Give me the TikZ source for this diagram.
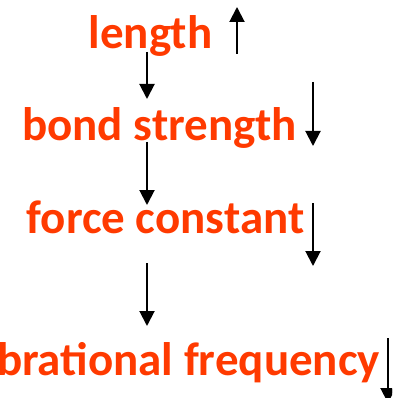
\documentclass[tikz,border=0pt]{standalone}
\usepackage{fontspec}
\setmainfont{Carlito}
\usetikzlibrary{arrows.meta}
\definecolor{lbl}{RGB}{255,58,0}
\begin{document}
\begin{tikzpicture}[x=1pt,y=-1pt,
  lbltext/.style={inner sep=0pt,outer sep=0pt,text=lbl,font=\bfseries\fontsize{47}{50}\selectfont},
  arr/.style={line width=2pt,-{Triangle[width=15pt,length=15pt]}}]
\useasboundingbox (0,0) rectangle (392,398);
\clip (0,0) rectangle (392,398);
\node[lbltext,anchor=base] (len) at (150.5,49) {length};
\node[lbltext,anchor=base] (bond) at (159.5,141) {bond strength};
\node[lbltext,anchor=base] (force) at (165.5,233) {force constant};
\node[lbltext,anchor=base east] (vib) at (380,375) {vibrational frequency};
\coordinate (u1s) at (237,54); \coordinate (u1e) at (237,7);
\coordinate (d1s) at (147,52); \coordinate (d1e) at (147,99);
\coordinate (d2s) at (313,82); \coordinate (d2e) at (313,146);
\coordinate (d3s) at (147,142); \coordinate (d3e) at (147,205);
\coordinate (d4s) at (313,203); \coordinate (d4e) at (313,266);
\coordinate (d5s) at (147,263); \coordinate (d5e) at (147,326);
\coordinate (d6s) at (388,338); \coordinate (d6e) at (388,403);
\draw[arr] (u1s) -- (u1e);
\draw[arr] (d1s) -- (d1e);
\draw[arr] (d2s) -- (d2e);
\draw[arr] (d3s) -- (d3e);
\draw[arr] (d4s) -- (d4e);
\draw[arr] (d5s) -- (d5e);
\draw[arr] (d6s) -- (d6e);
\end{tikzpicture}
\end{document}
